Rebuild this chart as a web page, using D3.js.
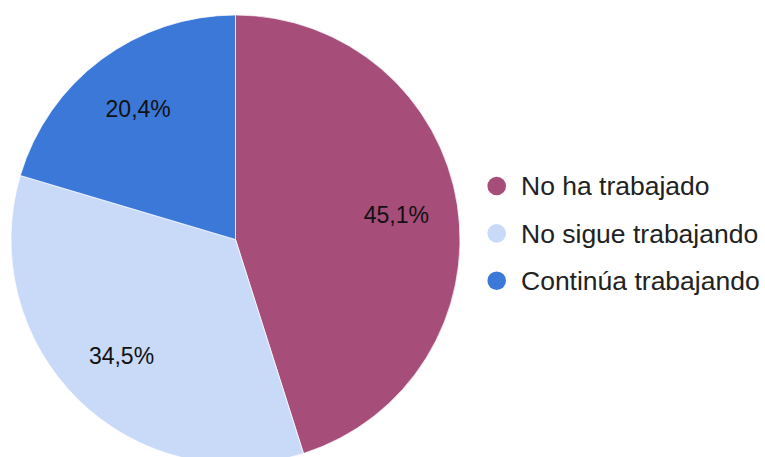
<!DOCTYPE html>
<html><head><meta charset="utf-8">
<script src="https://cdn.jsdelivr.net/npm/d3@7"></script>
<style>body{margin:0;background:#fff}</style>
</head><body>
<svg id="c" width="765" height="457"></svg>
<script>
const categories = ["No ha trabajado", "No sigue trabajando", "Continúa trabajando"];
const values = [45.1, 34.5, 20.4];
const labels = ["45,1%", "34,5%", "20,4%"];
const colors = ["#a64d79", "#c9daf8", "#3c78d8"];

const svg = d3.select("#c");
const cx = 235.5, cy = 239.5, r = 224.5;
const data = categories.map((c, i) => ({c, v: values[i], l: labels[i], col: colors[i]}));
const pie = d3.pie().value(d => d.v).sort(null);
const arcs = pie(data);
const arc = d3.arc().innerRadius(0).outerRadius(r);
const labArc = d3.arc().innerRadius(r * 0.725).outerRadius(r * 0.725);
const g = svg.append("g").attr("transform", `translate(${cx},${cy})`);
g.selectAll("path").data(arcs).join("path")
  .attr("d", arc).attr("fill", d => d.data.col)
  .attr("stroke", "#fff").attr("stroke-width", 0.7);
g.selectAll("text").data(arcs).join("text")
  .attr("transform", d => `translate(${labArc.centroid(d)})`)
  .attr("text-anchor", "middle").attr("dy", "0.35em")
  .attr("font-family", "Liberation Sans, Arial, sans-serif")
  .attr("font-size", 23).attr("fill", "#111")
  .text(d => d.data.l);

const y = d3.scalePoint().domain(categories).range([186, 280.7]);
const lg = svg.append("g");
const items = lg.selectAll("g").data(data).join("g")
  .attr("transform", d => `translate(0,${y(d.c)})`);
items.append("circle").attr("cx", 496.7).attr("cy", 0).attr("r", 9.3).attr("fill", d => d.col);
items.append("text").attr("x", 521).attr("dy", "0.35em")
  .attr("font-family", "Liberation Sans, Arial, sans-serif")
  .attr("font-size", 26.5).attr("fill", "#222")
  .text(d => d.c);
</script>
</body></html>
